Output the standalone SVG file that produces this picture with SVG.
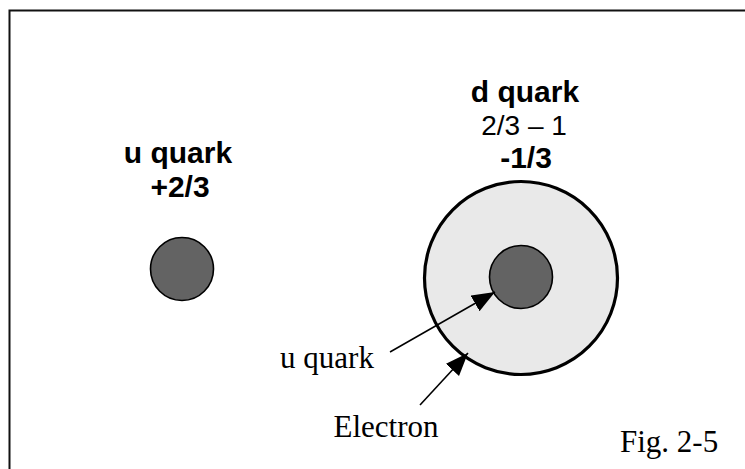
<svg xmlns="http://www.w3.org/2000/svg" width="745" height="469" viewBox="0 0 745 469">
<defs>
<style>
.b{font-family:"Liberation Sans",Arial,sans-serif;font-weight:bold;font-size:30px;text-anchor:middle;fill:#000}
.s{font-family:"Liberation Sans",Arial,sans-serif;font-size:28px;text-anchor:middle;fill:#000}
.t{font-family:"Liberation Serif","Times New Roman",serif;font-size:31px;fill:#000}
.q{fill:#636363;stroke:#000;stroke-width:1.6}
.e{fill:#e9e9e9;stroke:#000;stroke-width:3.2}
.c{stroke:#000;stroke-width:1.6;fill:none;marker-end:url(#ah)}
</style>
<marker id="ah" markerUnits="userSpaceOnUse" markerWidth="26" markerHeight="20" refX="23" refY="9" orient="auto">
<path d="M0,0 L23,9 L0,18 z" fill="#000"/>
</marker>
</defs>
<rect width="745" height="469" fill="#fff"/>
<rect x="9.5" y="10.5" width="800" height="500" fill="none" stroke="#111" stroke-width="2"/>
<g id="u-quark-left">
<circle class="q" cx="182" cy="269" r="31.5"/>
<text class="b" x="178" y="163">u quark</text>
<text class="b" x="180" y="197">+2/3</text>
</g>
<g id="d-quark">
<circle class="e" cx="521" cy="278" r="96.5"/>
<text class="b" x="525" y="102">d quark</text>
<text class="s" x="524" y="135">2/3 – 1</text>
<text class="b" x="526" y="168">-1/3</text>
</g>
<g id="u-quark-inner">
<circle class="q" cx="521" cy="277" r="31.5"/>
</g>
<g id="labels">
<text class="t" x="327" y="368" text-anchor="middle">u quark</text>
<text class="t" x="386" y="437" text-anchor="middle">Electron</text>
<text class="t" x="620" y="452">Fig. 2-5</text>
</g>
<g id="connectors">
<line class="c" x1="390" y1="352" x2="495" y2="292"/>
<line class="c" x1="420" y1="405" x2="468" y2="353"/>
</g>
</svg>
